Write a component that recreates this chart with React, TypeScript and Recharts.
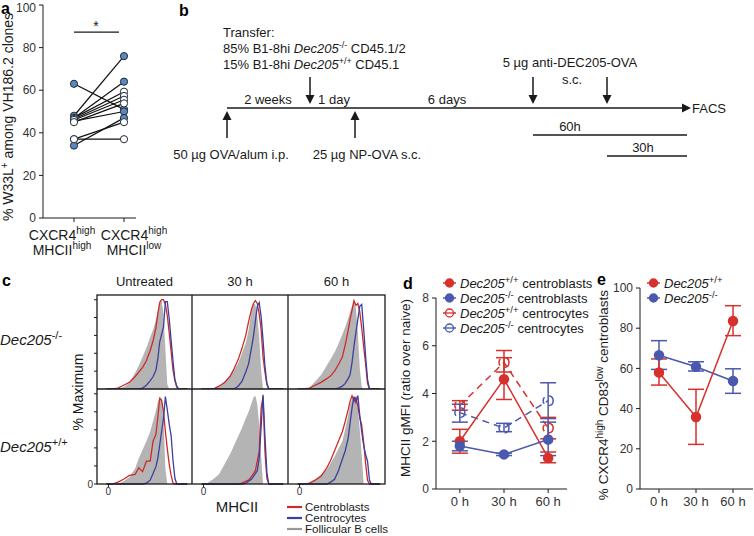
import React from "react";
import {
  LineChart,
  Line,
  ComposedChart,
  Area,
  XAxis,
  YAxis,
  ErrorBar,
  Legend,
  ReferenceLine,
} from "recharts";

const FONT = "'Liberation Sans', Arial, Helvetica, sans-serif";
const INK = "#1a1a1a";
const RED = "#d6312c";
const BLUE = "#4a58ad";
const HIST_RED = "#cf2a2a";
const HIST_BLUE = "#3d3f9f";
const HIST_GREY = "#b4b4b4";

// ---- panel a: paired W33L+ fractions per mouse
const pairSup = ["high", "low"]; // MHCII level of the two CXCR4high groups
const pairHigh = [63, 48, 47, 45.5, 34, 47, 46.5, 46, 45, 37, 37];
const pairLow = [51, 76, 64, 50, 47, 59.3, 57.3, 55.5, 53.8, 45, 37];
const pairFilled = [1, 1, 1, 1, 1, 0, 0, 0, 0, 0, 0];

// ---- panel c: MHCII histograms (% of max) on a shared channel grid
const histGrid = [10, 16, 22, 28, 34, 40, 44, 48, 52, 56, 59, 62, 64, 66, 68, 70, 72, 74, 76, 78, 80, 82, 84, 86, 90, 95];

const koUntrGrey = [0, 0, 0, 2, 6, 17, 25, 34, 44, 55, 63, 74, 82, 91, 94, 80, 42, 5, 0, 0, 0, 0, 0, 0, 0, 0];
const koUntrRed = [0, 0, 1, 4, 7, 13, 18, 23, 30, 41, 51, 65, 80, 92, 95, 95, 90, 78, 60, 40, 20, 9, 2, 0, 0, 0];
const koUntrBlue = [0, 0, 0, 0, 0, 0, 0, 1, 4, 9, 13, 20, 32, 50, 58, 66, 93, 93, 75, 52, 30, 10, 3, 0, 0, 0];

const ko30Grey = [0, 0, 0, 3, 8, 15, 21, 27, 38, 49, 63, 84, 91, 90, 78, 55, 20, 0, 0, 0, 0, 0, 0, 0, 0, 0];
const ko30Red = [0, 0, 0, 3, 7, 14, 22, 31, 43, 57, 72, 85, 91, 94, 91, 80, 63, 34, 18, 5, 0, 0, 0, 0, 0, 0];
const ko30Blue = [0, 0, 0, 0, 0, 0, 0, 3, 8, 18, 27, 44, 56, 72, 88, 92, 77, 52, 24, 6, 0, 0, 0, 0, 0, 0];

const ko60Grey = [0, 0, 1, 8, 15, 25, 32, 39, 48, 58, 66, 75, 82, 88, 93, 86, 60, 22, 2, 0, 0, 0, 0, 0, 0, 0];
const ko60Red = [0, 0, 1, 4, 7, 11, 14, 19, 26, 34, 47, 62, 74, 84, 94, 89, 91, 82, 65, 45, 27, 6, 0, 0, 0, 0];
const ko60Blue = [0, 0, 0, 0, 0, 0, 0, 0, 1, 3, 6, 11, 15, 28, 45, 60, 74, 88, 90, 64, 35, 10, 0, 0, 0, 0];

const wtUntrGrey = [0, 0, 0, 3, 7, 16, 27, 36, 45, 55, 66, 77, 86, 92, 90, 68, 16, 0, 0, 0, 0, 0, 0, 0, 0, 0];
const wtUntrRed = [0, 0, 2, 5, 9, 10, 17, 13, 24, 24, 45, 52, 70, 90, 88, 76, 55, 37, 21, 9, 1, 0, 0, 0, 0, 0];
const wtUntrBlue = [0, 0, 0, 0, 0, 0, 0, 0, 1, 4, 11, 18, 27, 41, 55, 69, 92, 78, 63, 51, 25, 6, 0, 0, 0, 0];

const wt30Grey = [0, 1, 5, 10, 21, 32, 41, 50, 59, 69, 76, 85, 91, 93, 84, 63, 30, 0, 0, 0, 0, 0, 0, 0, 0, 0];
const wt30Red = [0, 0, 0, 0, 0, 0, 0, 0, 1, 3, 4, 8, 11, 14, 24, 34, 80, 92, 34, 6, 0, 0, 0, 0, 0, 0];
const wt30Blue = [0, 0, 0, 0, 0, 0, 0, 0, 0, 1, 3, 5, 8, 11, 14, 27, 60, 94, 50, 12, 0, 0, 0, 0, 0, 0];

const wt60Grey = [0, 0, 1, 5, 10, 15, 22, 29, 37, 45, 58, 72, 84, 89, 90, 90, 80, 57, 30, 0, 0, 0, 0, 0, 0, 0];
const wt60Red = [0, 0, 1, 4, 8, 17, 25, 35, 45, 55, 66, 78, 87, 93, 87, 91, 82, 70, 62, 44, 22, 4, 0, 0, 0, 0];
const wt60Blue = [0, 0, 0, 0, 0, 0, 2, 5, 14, 26, 35, 48, 64, 80, 92, 86, 93, 72, 55, 41, 31, 24, 4, 0, 0, 0];

const histColumns = ["Untreated", "30 h", "60 h"];

// ---- panel d: MHCII gMFI (ratio over naive)
const hours = [0, 30, 60];
const cbWt = [2.0, 4.6, 1.3];
const cbWtLo = [1.5, 3.75, 1.1];
const cbWtHi = [2.5, 5.5, 1.55];
const cbKo = [1.8, 1.45, 2.07];
const cbKoLo = [1.6, 1.4, 1.4];
const cbKoHi = [2.0, 1.5, 2.8];
const ccWt = [3.5, 5.3, 2.55];
const ccWtLo = [3.3, 4.9, 2.1];
const ccWtHi = [3.7, 5.8, 3.0];
const ccKo = [3.2, 2.55, 3.7];
const ccKoLo = [2.8, 2.4, 2.95];
const ccKoHi = [3.55, 2.75, 4.45];

// ---- panel e: % CXCR4high CD83low centroblasts
const eWt = [58, 35.8, 83.6];
const eWtLo = [51.7, 22.2, 76.3];
const eWtHi = [64.7, 49.6, 91.2];
const eKo = [66.5, 60.8, 53.7];
const eKoLo = [59.5, 58.7, 47.6];
const eKoHi = [73.8, 63.3, 59.8];

const errPair = (v: number[], lo: number[], hi: number[], i: number) => [v[i] - lo[i], hi[i] - v[i]];

const pairRows = [1, 2].map((pos) => {
  const row: Record<string, number> = { pos };
  const src = pos === 1 ? pairHigh : pairLow;
  src.forEach((v, i) => (row[`p${i}`] = v));
  return row;
});

const dRows = hours.map((t, i) => ({
  t,
  cbWt: cbWt[i],
  cbWtErr: errPair(cbWt, cbWtLo, cbWtHi, i),
  cbKo: cbKo[i],
  cbKoErr: errPair(cbKo, cbKoLo, cbKoHi, i),
  ccWt: ccWt[i],
  ccWtErr: errPair(ccWt, ccWtLo, ccWtHi, i),
  ccKo: ccKo[i],
  ccKoErr: errPair(ccKo, ccKoLo, ccKoHi, i),
}));

const eRows = hours.map((t, i) => ({
  t,
  wt: eWt[i],
  wtErr: errPair(eWt, eWtLo, eWtHi, i),
  ko: eKo[i],
  koErr: errPair(eKo, eKoLo, eKoHi, i),
}));

const histPanels = [
  { row: 0, col: 0, grey: koUntrGrey, red: koUntrRed, blue: koUntrBlue },
  { row: 0, col: 1, grey: ko30Grey, red: ko30Red, blue: ko30Blue },
  { row: 0, col: 2, grey: ko60Grey, red: ko60Red, blue: ko60Blue },
  { row: 1, col: 0, grey: wtUntrGrey, red: wtUntrRed, blue: wtUntrBlue },
  { row: 1, col: 1, grey: wt30Grey, red: wt30Red, blue: wt30Blue },
  { row: 1, col: 2, grey: wt60Grey, red: wt60Red, blue: wt60Blue },
];

// layout of the histogram grid
const colEdges = [97, 192, 288, 385];
const rowEdges = [295, 389, 484];

type LegendRow = { sup: string; cell: string; color: string; open: boolean };

const dLegend: LegendRow[] = [
  { sup: "+/+", cell: "centroblasts", color: RED, open: false },
  { sup: "-/-", cell: "centroblasts", color: BLUE, open: false },
  { sup: "+/+", cell: "centrocytes", color: RED, open: true },
  { sup: "-/-", cell: "centrocytes", color: BLUE, open: true },
];
const eLegend: LegendRow[] = [
  { sup: "+/+", cell: "", color: RED, open: false },
  { sup: "-/-", cell: "", color: BLUE, open: false },
];

function SeriesLegend({ rows }: { rows: LegendRow[] }) {
  return (
    <svg width={150} height={rows.length * 15 + 2} style={{ display: "block", overflow: "visible" }}>
      {rows.map((r, i) => {
        const cy = 7 + i * 15;
        return (
          <g key={i}>
            <line x1={0} x2={13} y1={cy} y2={cy} stroke={r.color} strokeWidth={1.5} />
            <circle cx={6.5} cy={cy} r={4} fill={r.open ? "#fff" : r.color} stroke={r.color} strokeWidth={1.3} />
            {r.open && <line x1={2.5} x2={10.5} y1={cy} y2={cy} stroke={r.color} strokeWidth={1.3} />}
            <text x={17} y={cy + 4.5} fontSize={13} fill={INK} fontFamily={FONT} style={{ whiteSpace: "pre" }}>
              <tspan fontStyle="italic">Dec205</tspan>
              <tspan dy={-5} fontSize={9.5}>{r.sup}</tspan>
              <tspan dy={5}>{r.cell ? " " + r.cell : ""}</tspan>
            </text>
          </g>
        );
      })}
    </svg>
  );
}

function PairTick(props: any) {
  const { x, y, payload } = props;
  const sup = pairSup[payload.value - 1];
  // the two group labels sit spread out beyond their ticks
  const cx = x + (payload.value === 1 ? -12 : 10);
  return (
    <g>
      <text x={cx} y={y + 16} textAnchor="middle" fontSize={14} fill={INK} fontFamily={FONT}>
        CXCR4<tspan dy={-6} fontSize={10}>high</tspan>
      </text>
      <text x={cx} y={y + 31} textAnchor="middle" fontSize={14} fill={INK} fontFamily={FONT}>
        MHCII<tspan dy={-6} fontSize={10}>{sup}</tspan>
      </text>
    </g>
  );
}

function Arrow({ x1, y1, x2, y2 }: { x1: number; y1: number; x2: number; y2: number }) {
  const ang = Math.atan2(y2 - y1, x2 - x1);
  const L = 9;
  const W = 4.5;
  const bx = x2 - L * Math.cos(ang);
  const by = y2 - L * Math.sin(ang);
  const px = -Math.sin(ang) * W;
  const py = Math.cos(ang) * W;
  return (
    <g>
      <line x1={x1} y1={y1} x2={bx + Math.cos(ang) * 2} y2={by + Math.sin(ang) * 2} stroke={INK} strokeWidth={1.5} />
      <polygon points={`${x2},${y2} ${bx + px},${by + py} ${bx - px},${by - py}`} fill={INK} />
    </g>
  );
}

const tickStyle = { fontSize: 12, fill: "#333", fontFamily: FONT };

function Histogram({ p }: { p: (typeof histPanels)[number] }) {
  const left = colEdges[p.col] - (p.col === 0 ? 12 : 0);
  const width = colEdges[p.col + 1] - colEdges[p.col] + (p.col === 0 ? 12 : 0);
  const height = rowEdges[p.row + 1] - rowEdges[p.row] + (p.row === 1 ? 14 : 0);
  const data = histGrid.map((x, i) => ({ x, grey: p.grey[i], red: p.red[i], blue: p.blue[i] }));
  return (
    <div style={{ position: "absolute", left, top: rowEdges[p.row] }}>
      <ComposedChart width={width} height={height} data={data} margin={{ top: 0, right: 0, bottom: 0, left: 0 }}>
        <XAxis
          type="number"
          dataKey="x"
          domain={[0, 100]}
          ticks={[12]}
          tickFormatter={() => "0"}
          hide={p.row !== 1}
          height={14}
          axisLine={false}
          tickSize={3}
          tickMargin={1}
          tick={{ fontSize: 10, fill: "#333", fontFamily: FONT }}
          tickLine={{ stroke: INK }}
        />
        <YAxis
          type="number"
          domain={[0, 100]}
          ticks={[0, 19, 38, 57, 76, 95]}
          tickFormatter={(v: number) => (v === 0 ? "0" : "")}
          hide={p.col !== 0}
          width={12}
          axisLine={false}
          tickSize={3}
          tickMargin={1}
          tick={{ fontSize: 10, fill: "#333", fontFamily: FONT }}
          tickLine={{ stroke: INK }}
        />
        <Area type="linear" dataKey="grey" fill={HIST_GREY} fillOpacity={1} stroke="none" isAnimationActive={false} />
        <Line type="linear" dataKey="red" stroke={HIST_RED} strokeWidth={1.3} dot={false} activeDot={false} isAnimationActive={false} />
        <Line type="linear" dataKey="blue" stroke={HIST_BLUE} strokeWidth={1.3} dot={false} activeDot={false} isAnimationActive={false} />
      </ComposedChart>
    </div>
  );
}

export default function App() {
  const t13 = { fontSize: 13, fill: INK, fontFamily: FONT };
  return (
    <div
      style={{
        position: "absolute",
        left: 0,
        top: 0,
        width: 754,
        height: 536,
        background: "#fff",
        overflow: "hidden",
        fontFamily: FONT,
      }}
    >
      {/* panel a */}
      <div style={{ position: "absolute", left: 0, top: 0 }}>
        <LineChart width={180} height={262} data={pairRows} margin={{ top: 5, right: 44, bottom: 2, left: 13 }}>
          <XAxis
            type="number"
            dataKey="pos"
            domain={[0.38, 2.24]}
            ticks={[1, 2]}
            height={42}
            tick={<PairTick />}
            tickSize={4}
            axisLine={{ stroke: INK }}
            tickLine={{ stroke: INK }}
          />
          <YAxis
            type="number"
            domain={[0, 100]}
            ticks={[0, 20, 40, 60, 80, 100]}
            width={30}
            tickSize={4}
            tickMargin={3}
            tick={tickStyle}
            axisLine={{ stroke: INK }}
            tickLine={{ stroke: INK }}
          />
          <ReferenceLine
            segment={[
              { x: 1, y: 87.3 },
              { x: 1.9, y: 87.3 },
            ]}
            stroke={INK}
            strokeWidth={1.3}
          />
          {pairHigh.map((_, i) => (
            <Line
              key={i}
              type="linear"
              dataKey={`p${i}`}
              stroke="#111"
              strokeWidth={1.2}
              dot={{ r: 3.6, fill: pairFilled[i] ? "#5d88bb" : "#fff", stroke: "#1f2a38", strokeWidth: 1 }}
              activeDot={false}
              isAnimationActive={false}
            />
          ))}
        </LineChart>
      </div>

      {/* panel c */}
      {histPanels.map((p, i) => (
        <Histogram key={i} p={p} />
      ))}

      {/* panel d */}
      <div style={{ position: "absolute", left: 400, top: 270 }}>
        <LineChart width={175} height={250} data={dRows} margin={{ top: 28, right: 8, bottom: 6, left: 10 }}>
          <XAxis
            type="number"
            dataKey="t"
            domain={[-16.2, 72.8]}
            ticks={hours}
            tickFormatter={(v: number) => `${v} h`}
            height={25}
            tickSize={4}
            tickMargin={4}
            tick={{ ...tickStyle, fontSize: 13 }}
            axisLine={{ stroke: INK }}
            tickLine={{ stroke: INK }}
          />
          <YAxis
            type="number"
            domain={[0, 8]}
            ticks={[0, 2, 4, 6, 8]}
            width={26}
            tickSize={4}
            tickMargin={3}
            tick={tickStyle}
            axisLine={{ stroke: INK }}
            tickLine={{ stroke: INK }}
          />
          <Legend
            layout="vertical"
            align="center"
            verticalAlign="middle"
            wrapperStyle={{ left: 43, top: 6, width: 150, height: 62 }}
            content={() => <SeriesLegend rows={dLegend} />}
          />
          <Line type="linear" dataKey="ccWt" stroke={RED} strokeWidth={1.5} strokeDasharray="7 5" dot={{ r: 5, fill: "none", stroke: RED, strokeWidth: 1.5 }} activeDot={false} isAnimationActive={false}>
            <ErrorBar dataKey="ccWtErr" width={8} stroke={RED} strokeWidth={1.5} direction="y" />
          </Line>
          <Line type="linear" dataKey="ccKo" stroke={BLUE} strokeWidth={1.5} strokeDasharray="7 5" dot={{ r: 5, fill: "none", stroke: BLUE, strokeWidth: 1.5 }} activeDot={false} isAnimationActive={false}>
            <ErrorBar dataKey="ccKoErr" width={8} stroke={BLUE} strokeWidth={1.5} direction="y" />
          </Line>
          <Line type="linear" dataKey="cbWt" stroke={RED} strokeWidth={1.5} dot={{ r: 4.5, fill: RED, stroke: RED }} activeDot={false} isAnimationActive={false}>
            <ErrorBar dataKey="cbWtErr" width={8} stroke={RED} strokeWidth={1.5} direction="y" />
          </Line>
          <Line type="linear" dataKey="cbKo" stroke={BLUE} strokeWidth={1.5} dot={{ r: 4.5, fill: BLUE, stroke: BLUE }} activeDot={false} isAnimationActive={false}>
            <ErrorBar dataKey="cbKoErr" width={8} stroke={BLUE} strokeWidth={1.5} direction="y" />
          </Line>
        </LineChart>
      </div>

      {/* panel e */}
      <div style={{ position: "absolute", left: 600, top: 270 }}>
        <LineChart width={154} height={250} data={eRows} margin={{ top: 18, right: 1, bottom: 6, left: 12 }}>
          <XAxis
            type="number"
            dataKey="t"
            domain={[-15.4, 76.2]}
            ticks={hours}
            tickFormatter={(v: number) => `${v} h`}
            height={25}
            tickSize={4}
            tickMargin={4}
            tick={{ ...tickStyle, fontSize: 13 }}
            axisLine={{ stroke: INK }}
            tickLine={{ stroke: INK }}
          />
          <YAxis
            type="number"
            domain={[0, 100]}
            ticks={[0, 20, 40, 60, 80, 100]}
            width={28}
            tickSize={4}
            tickMargin={3}
            tick={tickStyle}
            axisLine={{ stroke: INK }}
            tickLine={{ stroke: INK }}
          />
          <Legend
            layout="vertical"
            align="center"
            verticalAlign="middle"
            wrapperStyle={{ left: 47, top: 6, width: 110, height: 32 }}
            content={() => <SeriesLegend rows={eLegend} />}
          />
          <Line type="linear" dataKey="ko" stroke={BLUE} strokeWidth={1.5} dot={{ r: 4.5, fill: BLUE, stroke: BLUE }} activeDot={false} isAnimationActive={false}>
            <ErrorBar dataKey="koErr" width={8} stroke={BLUE} strokeWidth={1.5} direction="y" />
          </Line>
          <Line type="linear" dataKey="wt" stroke={RED} strokeWidth={1.5} dot={{ r: 4.5, fill: RED, stroke: RED }} activeDot={false} isAnimationActive={false}>
            <ErrorBar dataKey="wtErr" width={8} stroke={RED} strokeWidth={1.5} direction="y" />
          </Line>
        </LineChart>
      </div>

      {/* text, frames and the schematic of panel b */}
      <svg width={754} height={536} style={{ position: "absolute", left: 0, top: 0, pointerEvents: "none" }}>
        <g fontFamily={FONT} fontWeight="bold" fontSize={16} fill="#000">
          <text x={1} y={14}>a</text>
          <text x={179} y={16}>b</text>
          <text x={2} y={286}>c</text>
          <text x={403} y={289}>d</text>
          <text x={597} y={285}>e</text>
        </g>

        {/* panel a */}
        <text transform="translate(13,117) rotate(-90)" textAnchor="middle" fontSize={14} fill={INK} fontFamily={FONT}>
          % W33L<tspan dy={-5} fontSize={10}>+</tspan>
          <tspan dy={5}> among VH186.2 clones</tspan>
        </text>
        <text x={96} y={31} textAnchor="middle" fontSize={14} fill={INK} fontFamily={FONT}>*</text>

        {/* panel b */}
        <g {...t13}>
          <text x={223} y={37}>Transfer:</text>
          <text x={223} y={53} style={{ whiteSpace: "pre" }}>
            85% B1-8hi <tspan fontStyle="italic">Dec205</tspan>
            <tspan dy={-5} fontSize={9}>-/-</tspan>
            <tspan dy={5}> CD45.1/2</tspan>
          </text>
          <text x={223} y={69} style={{ whiteSpace: "pre" }}>
            15% B1-8hi <tspan fontStyle="italic">Dec205</tspan>
            <tspan dy={-5} fontSize={9}>+/+</tspan>
            <tspan dy={5}> CD45.1</tspan>
          </text>
          <text x={268} y={104} textAnchor="middle">2 weeks</text>
          <text x={334} y={104} textAnchor="middle">1 day</text>
          <text x={447} y={104} textAnchor="middle">6 days</text>
          <text x={692} y={113}>FACS</text>
          <text x={231} y={159} textAnchor="middle">50 µg OVA/alum i.p.</text>
          <text x={367} y={159} textAnchor="middle">25 µg NP-OVA s.c.</text>
          <text x={570} y={67} textAnchor="middle">5 µg anti-DEC205-OVA</text>
          <text x={572} y={84} textAnchor="middle">s.c.</text>
          <text x={570} y={131} textAnchor="middle">60h</text>
          <text x={643} y={152} textAnchor="middle">30h</text>
        </g>
        <Arrow x1={227} y1={108} x2={691} y2={108} />
        <Arrow x1={310} y1={77} x2={310} y2={104} />
        <Arrow x1={533} y1={77} x2={533} y2={104} />
        <Arrow x1={607} y1={77} x2={607} y2={104} />
        <Arrow x1={227} y1={138} x2={227} y2={111} />
        <Arrow x1={355} y1={138} x2={355} y2={111} />
        <line x1={533} x2={687} y1={135} y2={135} stroke={INK} strokeWidth={1.3} />
        <line x1={607} x2={687} y1={156} y2={156} stroke={INK} strokeWidth={1.3} />

        {/* panel c */}
        <rect
          x={colEdges[0]}
          y={rowEdges[0]}
          width={colEdges[3] - colEdges[0]}
          height={rowEdges[2] - rowEdges[0]}
          fill="none"
          stroke={INK}
          strokeWidth={1.3}
        />
        <line x1={colEdges[1]} x2={colEdges[1]} y1={rowEdges[0]} y2={rowEdges[2]} stroke={INK} strokeWidth={1.3} />
        <line x1={colEdges[2]} x2={colEdges[2]} y1={rowEdges[0]} y2={rowEdges[2]} stroke={INK} strokeWidth={1.3} />
        <line x1={colEdges[0]} x2={colEdges[3]} y1={rowEdges[1]} y2={rowEdges[1]} stroke={INK} strokeWidth={1.3} />
        {histColumns.map((c, i) => (
          <text key={c} x={(colEdges[i] + colEdges[i + 1]) / 2} y={286} textAnchor="middle" {...t13}>
            {c}
          </text>
        ))}
        <text x={0} y={345} fontSize={15} fill={INK} fontFamily={FONT}>
          <tspan fontStyle="italic">Dec205</tspan>
          <tspan dy={-6} fontSize={11}>-/-</tspan>
        </text>
        <text x={0} y={452} fontSize={15} fill={INK} fontFamily={FONT}>
          <tspan fontStyle="italic">Dec205</tspan>
          <tspan dy={-6} fontSize={11}>+/+</tspan>
        </text>
        <text transform="translate(83,392) rotate(-90)" textAnchor="middle" fontSize={14} fill={INK} fontFamily={FONT}>
          % Maximum
        </text>
        <text x={237} y={512} textAnchor="middle" fontSize={15} fill={INK} fontFamily={FONT}>MHCII</text>
        {[
          { label: "Centroblasts", color: HIST_RED },
          { label: "Centrocytes", color: HIST_BLUE },
          { label: "Follicular B cells", color: "#999" },
        ].map((l, i) => (
          <g key={l.label}>
            <line x1={287} x2={302} y1={507 + i * 11} y2={507 + i * 11} stroke={l.color} strokeWidth={2.2} />
            <text x={305} y={511 + i * 11} fontSize={11.5} fill={INK} fontFamily={FONT}>
              {l.label}
            </text>
          </g>
        ))}

        {/* axis titles of d and e */}
        <text transform="translate(410,388) rotate(-90)" textAnchor="middle" fontSize={13.5} fill={INK} fontFamily={FONT}>
          MHCII gMFI (ratio over naive)
        </text>
        <text transform="translate(608,395) rotate(-90)" textAnchor="middle" fontSize={13.5} fill={INK} fontFamily={FONT} style={{ whiteSpace: "pre" }}>
          % CXCR4<tspan dy={-5} fontSize={10}>high</tspan>
          <tspan dy={5}> CD83</tspan>
          <tspan dy={-5} fontSize={10}>low</tspan>
          <tspan dy={5}> centroblasts</tspan>
        </text>
      </svg>
    </div>
  );
}
